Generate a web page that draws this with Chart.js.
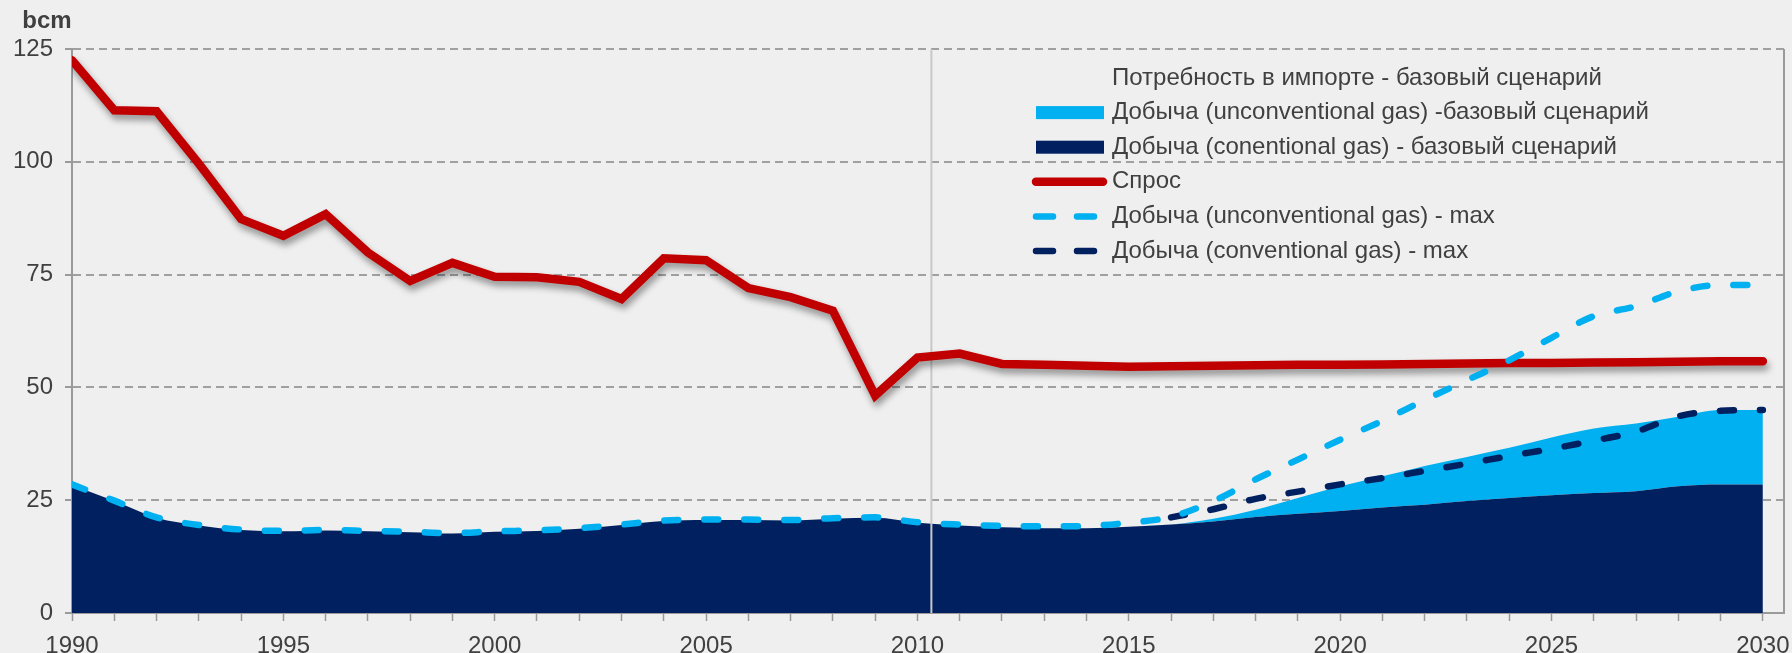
<!DOCTYPE html>
<html>
<head>
<meta charset="utf-8">
<script src="https://cdn.jsdelivr.net/npm/chart.js@4.4.0/dist/chart.umd.min.js"></script>
<style>
    html, body { margin: 0; padding: 0; background: #efefef; }
</style>
</head>
<body>
<canvas id="gasChart" width="1792" height="653"></canvas>
<script>
const years = [
    1990, 1991, 1992, 1993, 1994, 1995, 1996, 1997, 1998, 1999,
    2000, 2001, 2002, 2003, 2004, 2005, 2006, 2007, 2008, 2009,
    2010, 2011, 2012, 2013, 2014, 2015, 2016, 2017, 2018, 2019,
    2020, 2021, 2022, 2023, 2024, 2025, 2026, 2027, 2028, 2029, 2030
];

// Спрос
const demand = [
    122.5, 111.4, 111.2, 99.6, 87.3, 83.6, 88.4, 79.9, 73.6, 77.6,
    74.5, 74.4, 73.4, 69.6, 78.6, 78.2, 72.0, 70.0, 67.0, 48.2,
    56.6, 57.5, 55.2, 55.0, 54.8, 54.6, 54.7, 54.8, 54.9, 55.0,
    55.0, 55.1, 55.2, 55.3, 55.4, 55.4, 55.5, 55.6, 55.7, 55.8, 55.8
];

// Добыча (conventional) - базовый сценарий
const conventionalBase = [
    28.3, 24.8, 21.1, 19.4, 18.4, 18.1, 18.3, 18.1, 17.9, 17.6,
    18.0, 18.2, 18.7, 19.5, 20.4, 20.6, 20.6, 20.5, 20.9, 21.1,
    20.0, 19.4, 19.0, 18.8, 18.8, 19.1, 19.6, 20.3, 21.3, 22.0,
    22.6, 23.4, 24.0, 24.8, 25.5, 26.1, 26.6, 27.0, 28.1, 28.5, 28.5
];

// Добыча (unconventional) - базовый сценарий
const unconventionalBase = [
    0, 0, 0, 0, 0, 0, 0, 0, 0, 0,
    0, 0, 0, 0, 0, 0, 0, 0, 0, 0,
    0, 0, 0, 0, 0, 0, 0, 0.6, 1.6, 3.5,
    5.5, 6.9, 8.6, 9.8, 11.1, 12.8, 14.3, 15.0, 15.4, 16.5, 16.5
];

// Добыча (unconventional gas) - max
const unconventionalMax = [
    28.5, 24.9, 21.2, 19.5, 18.5, 18.2, 18.4, 18.2, 18.0, 17.7,
    18.1, 18.3, 18.8, 19.6, 20.5, 20.7, 20.7, 20.6, 21.0, 21.2,
    20.1, 19.6, 19.3, 19.2, 19.3, 20.0, 21.3, 24.8, 29.6, 34.0,
    38.4, 42.6, 47.2, 51.6, 56.0, 61.0, 65.8, 68.0, 71.3, 72.7, 72.7
];

// Добыча (conventional gas) - max
const conventionalMax = [
    null, null, null, null, null, null, null, null, null, null,
    null, null, null, null, null, null, null, null, null, null,
    null, null, null, null, null, null, 21.2, 23.0, 25.3, 26.9,
    28.5, 29.9, 31.5, 33.1, 34.8, 36.4, 38.2, 40.2, 43.6, 44.8, 45.0
];

const yTicks = [0, 25, 50, 75, 100, 125];

const colRed = '#c00000';
const colNavy = '#002060';
const colLight = '#00b0f0';
const colText = '#404040';
const colAxis = '#9a9a9a';
const fontFamily = '"Liberation Sans", Arial, sans-serif';

// дополнительные элементы: подпись оси, граница справа, линия 2010, тень
const extrasPlugin = {
    id: 'extras',
    beforeDatasetDraw(chart, args) {
        if (args.index === 2) {
            const ctx = chart.ctx;
            const area = chart.chartArea;
            const x = chart.scales.x.getPixelForValue(2010.33);
            ctx.save();
            ctx.strokeStyle = '#c8c8c8';
            ctx.lineWidth = 2;
            ctx.beginPath();
            ctx.moveTo(x, area.top);
            ctx.lineTo(x, area.bottom);
            ctx.stroke();
            ctx.restore();
            // тень под линией спроса
            ctx.save();
            ctx.shadowColor = 'rgba(0,0,0,0.4)';
            ctx.shadowBlur = 7;
            ctx.shadowOffsetX = 2;
            ctx.shadowOffsetY = 5;
        }
    },
    afterDatasetDraw(chart, args) {
        if (args.index === 2) {
            chart.ctx.restore();
        }
    },
    afterDraw(chart) {
        const ctx = chart.ctx;
        const area = chart.chartArea;
        ctx.save();
        ctx.strokeStyle = colAxis;
        ctx.lineWidth = 2;
        ctx.beginPath();
        ctx.moveTo(area.right, area.top);
        ctx.lineTo(area.right, area.bottom);
        ctx.stroke();

        ctx.fillStyle = colText;
        ctx.font = 'bold 24px ' + fontFamily;
        ctx.textAlign = 'center';
        ctx.textBaseline = 'middle';
        ctx.fillText('bcm', 47, 21);

        // легенда
        ctx.font = '24px ' + fontFamily;
        ctx.textAlign = 'left';
        const order = [5, 4, 3, 2, 0, 1];
        order.forEach((idx, i) => {
            const ds = chart.data.datasets[idx];
            const y = 78 + i * 34.6;
            ctx.save();
            if (ds.legendKind === 'box') {
                ctx.fillStyle = ds.backgroundColor;
                ctx.fillRect(1036, y - 6.5, 68, 13);
            } else if (ds.legendKind === 'line' || ds.legendKind === 'dash') {
                ctx.strokeStyle = ds.borderColor;
                ctx.lineWidth = ds.borderWidth;
                ctx.lineCap = 'round';
                if (ds.legendKind === 'dash') ctx.setLineDash([17, 24]);
                ctx.beginPath();
                ctx.moveTo(1036, y);
                ctx.lineTo(1103, y);
                ctx.stroke();
            }
            ctx.restore();
            ctx.fillText(ds.label, 1112, y);
        });
        ctx.restore();
    }
};

const data = {
    labels: years,
    datasets: [
        {
            label: 'Добыча (unconventional gas) - max',
            data: unconventionalMax,
            stack: 'a',
            borderColor: colLight,
            borderWidth: 6.5,
            borderDash: [14, 26],
            borderCapStyle: 'round',
            cubicInterpolationMode: 'monotone',
            pointRadius: 0,
            fill: false,
            legendKind: 'dash'
        },
        {
            label: 'Добыча (conventional gas) - max',
            data: conventionalMax,
            stack: 'b',
            borderColor: colNavy,
            borderWidth: 6.5,
            borderDash: [14, 26],
            borderCapStyle: 'round',
            cubicInterpolationMode: 'monotone',
            pointRadius: 0,
            fill: false,
            legendKind: 'dash'
        },
        {
            label: 'Спрос',
            data: demand,
            stack: 'c',
            borderColor: colRed,
            borderWidth: 8.5,
            borderCapStyle: 'round',
            borderJoinStyle: 'miter',
            tension: 0,
            pointRadius: 0,
            fill: false,
            legendKind: 'line'
        },
        {
            label: 'Добыча (conentional gas) - базовый сценарий',
            data: conventionalBase,
            stack: 'base',
            borderColor: colNavy,
            backgroundColor: colNavy,
            borderWidth: 0,
            cubicInterpolationMode: 'monotone',
            pointRadius: 0,
            fill: 'origin',
            legendKind: 'box'
        },
        {
            label: 'Добыча (unconventional gas) -базовый сценарий',
            data: unconventionalBase,
            stack: 'base',
            borderColor: colLight,
            backgroundColor: colLight,
            borderWidth: 0,
            cubicInterpolationMode: 'monotone',
            pointRadius: 0,
            fill: '-1',
            legendKind: 'box'
        },
        {
            label: 'Потребность в импорте - базовый сценарий',
            data: [],
            stack: 'd',
            borderColor: 'rgba(0,0,0,0)',
            backgroundColor: 'rgba(0,0,0,0)',
            pointRadius: 0,
            fill: false,
            legendKind: 'none'
        }
    ]
};

const config = {
    type: 'line',
    data: data,
    options: {
        responsive: false,
        animation: false,
        devicePixelRatio: 1,
        layout: { padding: { top: 49, right: 8, left: 0, bottom: 0 } },
        plugins: {
            legend: { display: false },
            tooltip: { enabled: false }
        },
        scales: {
            x: {
                type: 'linear',
                min: 1990,
                max: 2030.5,
                afterFit: scale => {
                    scale.height = 40;
                    scale.paddingLeft = 0;
                    scale.paddingRight = 0;
                },
                ticks: {
                    stepSize: 1,
                    includeBounds: false,
                    autoSkip: false,
                    maxRotation: 0,
                    padding: 11,
                    color: colText,
                    font: { family: fontFamily, size: 24 },
                    callback: value => (value % 5 === 0 ? String(value) : '')
                },
                grid: {
                    drawOnChartArea: false,
                    drawTicks: true,
                    tickLength: 8,
                    tickWidth: 1.5,
                    tickColor: colAxis,
                    color: colAxis
                },
                border: { display: true, color: colAxis, width: 2 }
            },
            y: {
                stacked: true,
                min: 0,
                max: 125,
                afterFit: scale => { scale.width = 72; },
                afterBuildTicks: scale => {
                    scale.ticks = yTicks.map(v => ({ value: v }));
                },
                ticks: {
                    padding: 12,
                    color: colText,
                    font: { family: fontFamily, size: 24 }
                },
                grid: {
                    color: '#a0a0a0',
                    lineWidth: 2,
                    tickLength: 7,
                    tickColor: colAxis
                },
                border: { display: true, color: colAxis, width: 2, dash: [8, 5] }
            }
        }
    },
    plugins: [extrasPlugin]
};

let gasChart = new Chart(document.getElementById('gasChart'), config);
</script>
</body>
</html>
